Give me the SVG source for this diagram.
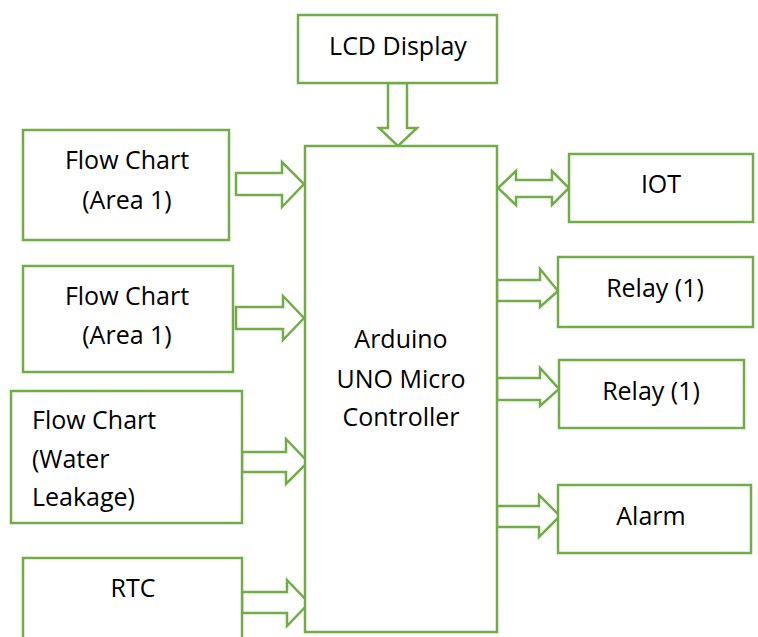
<svg xmlns="http://www.w3.org/2000/svg" width="758" height="637" viewBox="0 0 758 637">
<style>
.b{fill:#fff;stroke:#70AD47;stroke-width:2.5}
.a{fill:#fff;stroke:#70AD47;stroke-width:2.5;stroke-linejoin:miter}
text{font-family:"Open Sans","Liberation Sans",Arial,sans-serif;font-size:25px;fill:#000}
.c{text-anchor:middle}
</style>
<rect width="758" height="637" fill="#fff"/>
<g id="connectors">
<path class="a" d="M388,83 L407,83 L407,128 L417,128 L398,146 L379,128 L388,128 Z"/>
<path class="a" d="M236,173 L282,173 L282,162 L304,184 L282,207 L282,195 L236,195 Z"/>
<path class="a" d="M236,307 L283,307 L283,296 L304,318 L283,340 L283,329 L236,329 Z"/>
<path class="a" d="M242,452 L286,452 L286,439 L308,462 L286,484 L286,472 L242,472 Z"/>
<path class="a" d="M242,592 L287,592 L287,580 L309,603 L287,626 L287,613 L242,613 Z"/>
<path class="a" d="M498,188 L516,171 L516,180 L552,180 L552,171 L569,188 L552,205 L552,197 L516,197 L516,205 Z"/>
<path class="a" d="M497,280 L540,280 L540,269 L558,291 L540,307 L540,301 L497,301 Z"/>
<path class="a" d="M497,378 L540,378 L540,368 L559,389 L540,406 L540,400 L497,400 Z"/>
<path class="a" d="M497,506 L539,506 L539,495 L560,516 L539,537 L539,527 L497,527 Z"/>
</g>
<g id="lcd"><rect class="b" x="298" y="15" width="199" height="68"/><text class="c" x="398" y="55">LCD Display</text></g>
<g id="main"><rect class="b" x="305" y="146" width="192" height="486"/>
<text class="c" x="401" y="348">Arduino</text><text class="c" x="401" y="388">UNO Micro</text><text class="c" x="401" y="426">Controller</text></g>
<g id="flow1"><rect class="b" x="23" y="130" width="206" height="110"/><text class="c" x="127" y="169">Flow Chart</text><text class="c" x="127" y="209">(Area 1)</text></g>
<g id="flow2"><rect class="b" x="23" y="266" width="210" height="106"/><text class="c" x="127" y="305">Flow Chart</text><text class="c" x="127" y="344">(Area 1)</text></g>
<g id="flow3"><rect class="b" x="11" y="391" width="231" height="132"/><text x="32" y="429">Flow Chart</text><text x="32" y="468">(Water</text><text x="32" y="506">Leakage)</text></g>
<g id="rtc"><rect class="b" x="23" y="558" width="219" height="90"/><text class="c" x="133" y="597">RTC</text></g>
<g id="iot"><rect class="b" x="569" y="154" width="184" height="68"/><text class="c" x="661" y="193">IOT</text></g>
<g id="relay1"><rect class="b" x="558" y="257" width="195" height="70"/><text class="c" x="655" y="297">Relay (1)</text></g>
<g id="relay2"><rect class="b" x="559" y="360" width="185" height="68"/><text class="c" x="651" y="400">Relay (1)</text></g>
<g id="alarm"><rect class="b" x="558" y="485" width="193" height="68"/><text class="c" x="651" y="525">Alarm</text></g>
</svg>
